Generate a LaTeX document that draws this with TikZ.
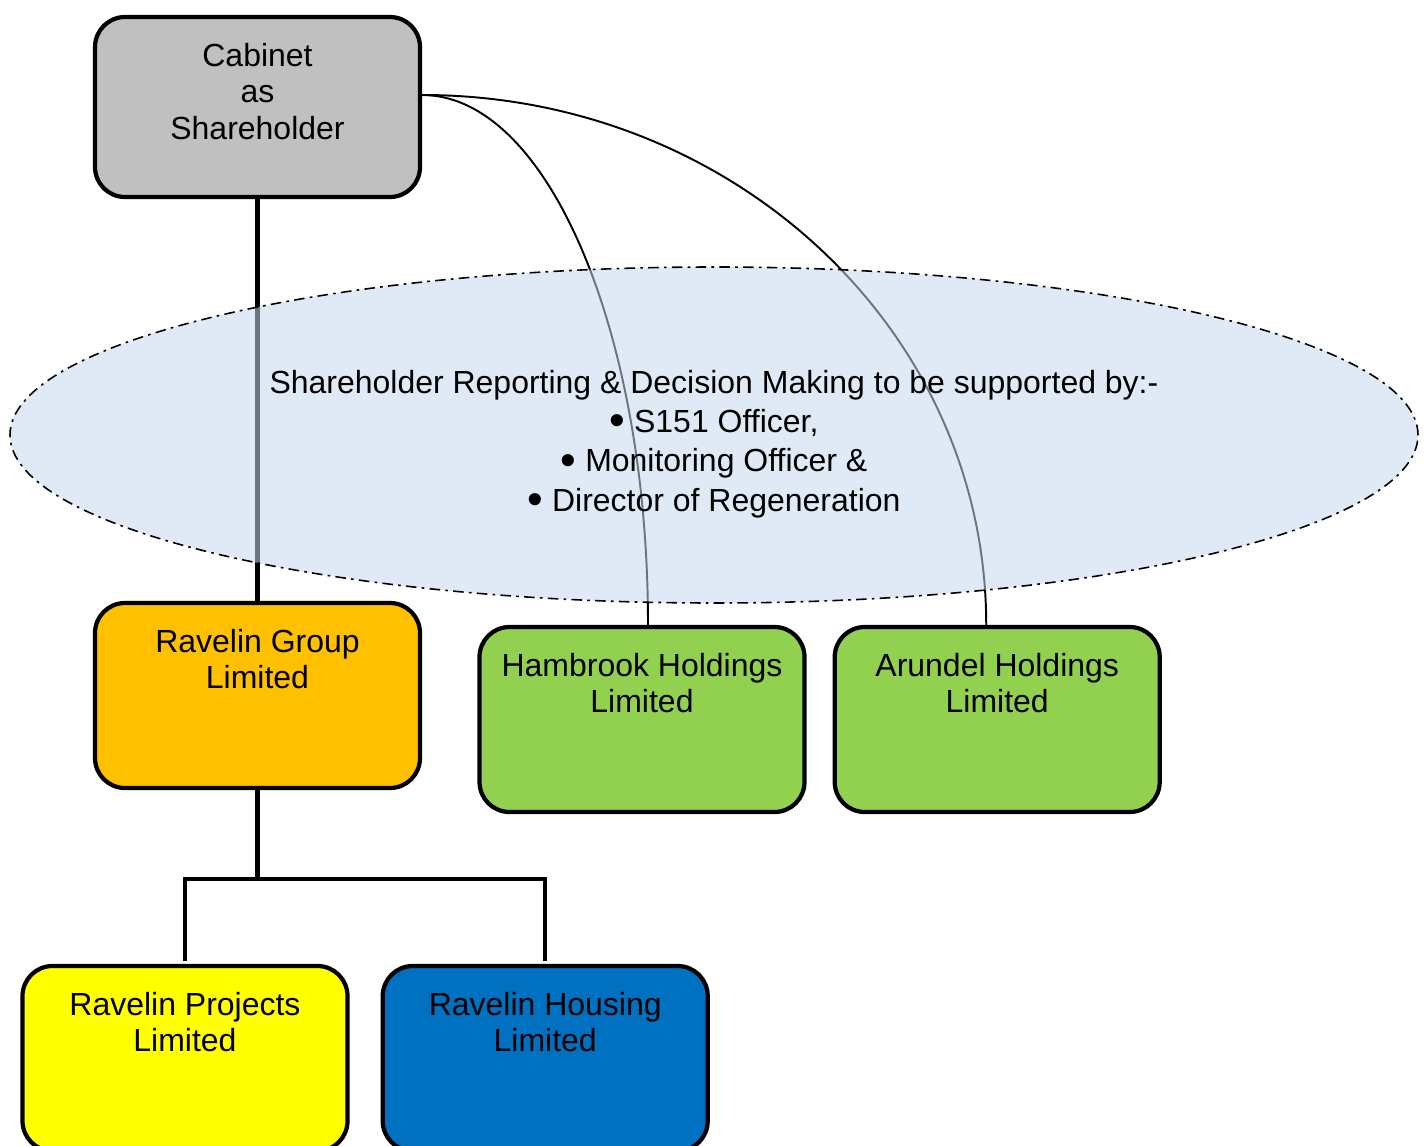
\documentclass[tikz,border=0pt]{standalone}
\usepackage{fontspec}
\setmainfont{Liberation Sans}
\usetikzlibrary{positioning,shapes.geometric}

\definecolor{cabgrey}{HTML}{C0C0C0}
\definecolor{grouporange}{HTML}{FFC000}
\definecolor{holdgreen}{HTML}{92D050}
\definecolor{projyellow}{HTML}{FFFF00}
\definecolor{houseblue}{HTML}{0070C0}
\definecolor{supportblue}{RGB}{198,216,240}
\newcommand{\bigbullet}{\raisebox{-0.2ex}{\scalebox{1.4}{\textbullet}}}

\begin{document}
\begin{tikzpicture}[node distance=0.6cm]
  \tikzstyle{box}=[draw,rounded corners=0.6cm,line width=2.4pt,minimum width=6.5cm,minimum height=3.7cm]
  \tikzstyle{boxtext}=[anchor=north,yshift=-0.56cm,inner sep=0pt,align=center,font=\fontsize{18.2}{20.8}\selectfont]
  \tikzstyle{tree}=[line width=2.3pt]
  \tikzstyle{link}=[line width=1.1pt]
  \useasboundingbox (0,0) rectangle (28.48,-22.92);
  \node[box,fill=cabgrey,minimum height=3.6cm,label={[boxtext]north:Cabinet\\as\\Shareholder}] (cabinet) at (5.15,-2.14) {};
  \node[box,fill=grouporange,label={[boxtext]north:Ravelin Group\\Limited}] (group) at (5.15,-13.91) {};
  \node[box,fill=holdgreen,label={[boxtext]north:Hambrook Holdings\\Limited}] (hambrook) at (12.84,-14.39) {};
  \node[box,fill=holdgreen,right=0.52cm of hambrook,label={[boxtext]north:Arundel Holdings\\Limited}] (arundel) {};
  \node[box,fill=projyellow,label={[boxtext]north:Ravelin Projects\\Limited}] (projects) at (3.70,-21.17) {};
  \node[box,fill=houseblue,right=0.62cm of projects,label={[boxtext]north:Ravelin Housing\\Limited}] (housing) {};
  % company structure
  \draw[tree] (cabinet) -- (group);
  \draw[tree] (group.south) -- ++(0,-1.78) coordinate (fork) -| ([yshift=0.06cm]projects.north);
  \draw[tree] (fork) -| ([yshift=0.06cm]housing.north);
  % direct shareholding
  \draw[link] ([yshift=0.24cm]cabinet.east) .. controls +(2.50,0) and +(0,5.88) .. ([xshift=0.12cm]hambrook.north);
  \draw[link] ([yshift=0.24cm]cabinet.east) .. controls +(6.23,0) and +(0,5.88) .. ([xshift=-0.22cm]arundel.north);
  % support for reporting
  \node[ellipse,draw,line width=0.9pt,dash pattern=on 6pt off 3pt on 1.5pt off 3pt,fill=supportblue,fill opacity=0.54,draw opacity=1,minimum width=28.16cm,minimum height=6.72cm,
    label={[align=center,text opacity=1,fill opacity=1,yshift=-0.18cm,font=\fontsize{18.2}{22.4}\selectfont]center:Shareholder Reporting \& Decision Making to be supported by:-\\\bigbullet\ S151 Officer,\\\bigbullet\ Monitoring Officer \&\\\bigbullet\ Director of Regeneration}] (support) at (14.28,-8.70) {};
\end{tikzpicture}
\end{document}
